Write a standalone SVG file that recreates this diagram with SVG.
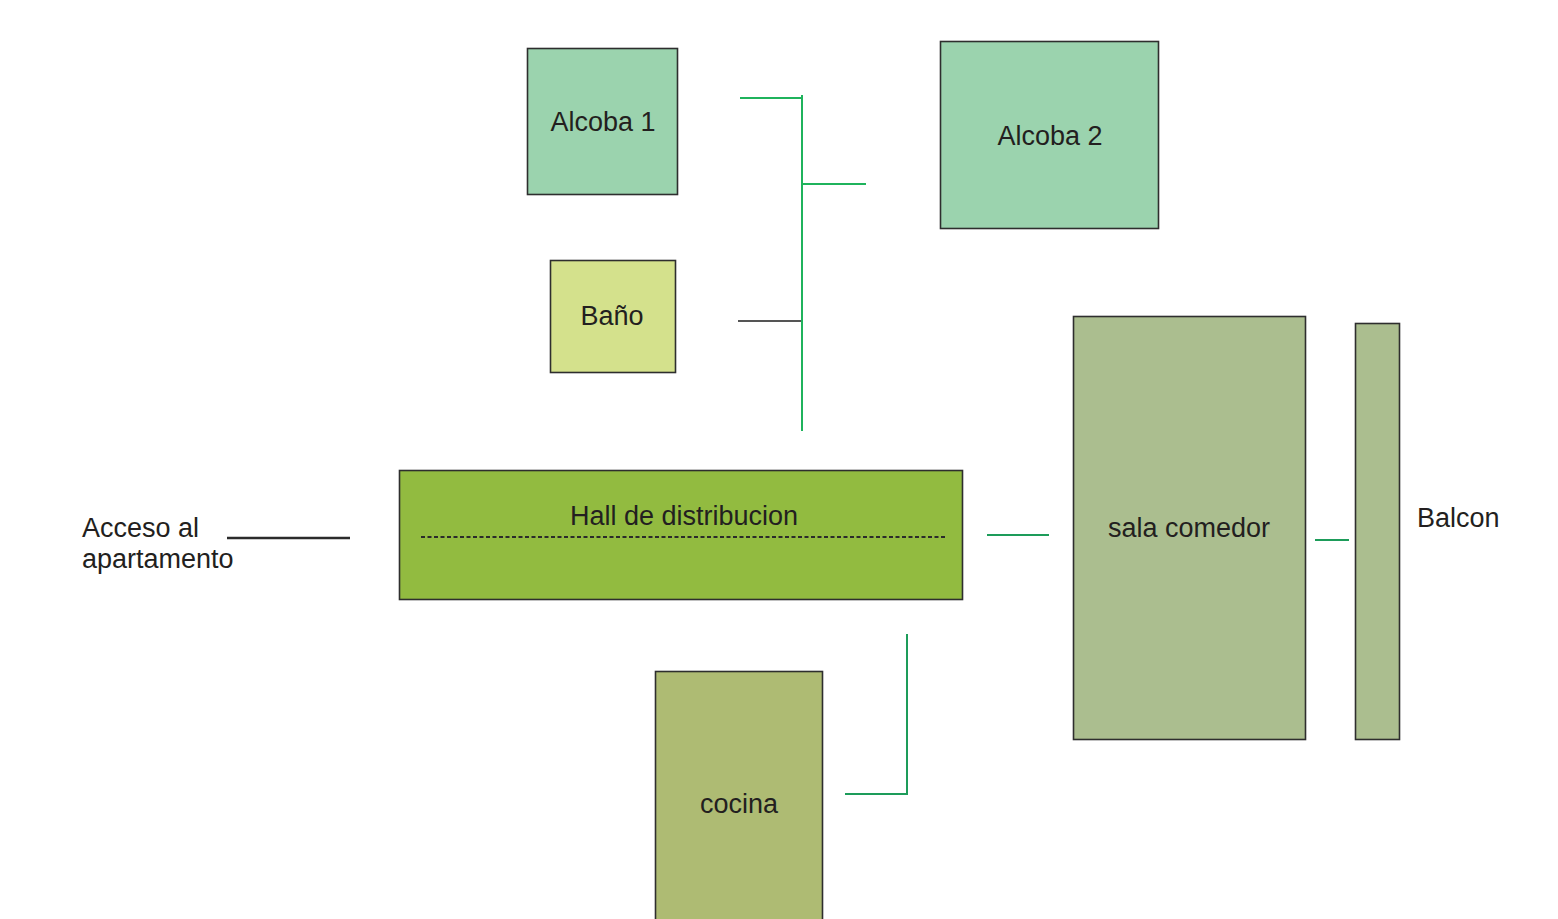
<svg xmlns="http://www.w3.org/2000/svg" width="1558" height="919" viewBox="0 0 1558 919">
  <style>
    .room { stroke: #2e2e2e; stroke-width: 1.6; }
    .label { font-family: "Liberation Sans", Arial, sans-serif; font-size: 27px; fill: #231f20; }
    .mid { text-anchor: middle; }
    .link { stroke: #1fb35c; stroke-width: 2; fill: none; }
    .link-dark { stroke: #1d9c5a; stroke-width: 2; fill: none; }
    .link-grey { stroke: #555555; stroke-width: 2; fill: none; }
  </style>
  <rect width="1558" height="919" fill="#ffffff"/>

  <!-- connectors between rooms -->
  <g id="connectors">
    <line class="link" x1="802" y1="95" x2="802" y2="431"/>
    <line class="link" x1="740" y1="98" x2="802" y2="98"/>
    <line class="link" x1="802" y1="184" x2="866" y2="184"/>
    <line class="link-grey" x1="738" y1="321" x2="801" y2="321"/>
    <line class="link-dark" x1="987" y1="535" x2="1049" y2="535"/>
    <line class="link-dark" x1="1315" y1="540" x2="1349" y2="540"/>
    <polyline class="link-dark" points="907,634 907,794 845,794"/>
    <line x1="227" y1="538" x2="350" y2="538" stroke="#2b2b2b" stroke-width="2.5"/>
  </g>

  <g id="acceso">
    <text class="label" x="82" y="537">Acceso al</text>
    <text class="label" x="82" y="568">apartamento</text>
  </g>

  <g id="alcoba1">
    <rect class="room" x="527.5" y="48.5" width="150" height="146" fill="#9bd3ae"/>
    <text class="label mid" x="603" y="131">Alcoba 1</text>
  </g>

  <g id="alcoba2">
    <rect class="room" x="940.5" y="41.5" width="218" height="187" fill="#9bd3ae"/>
    <text class="label mid" x="1050" y="145">Alcoba 2</text>
  </g>

  <g id="bano">
    <rect class="room" x="550.5" y="260.5" width="125" height="112" fill="#d4e18c"/>
    <text class="label mid" x="612" y="325">Baño</text>
  </g>

  <g id="hall">
    <rect class="room" x="399.5" y="470.5" width="563" height="129" fill="#92bb40"/>
    <text class="label mid" x="684" y="525">Hall de distribucion</text>
    <line x1="421" y1="537" x2="947" y2="537" stroke="#2b2b2b" stroke-width="2" stroke-dasharray="4,2.5"/>
  </g>

  <g id="sala">
    <rect class="room" x="1073.5" y="316.5" width="232" height="423" fill="#abbe8f"/>
    <text class="label mid" x="1189" y="537">sala comedor</text>
  </g>

  <g id="balcon">
    <rect class="room" x="1355.5" y="323.5" width="44" height="416" fill="#abbe8f"/>
    <text class="label" x="1417" y="527">Balcon</text>
  </g>

  <g id="cocina">
    <rect class="room" x="655.5" y="671.5" width="167" height="260" fill="#aebb73"/>
    <text class="label mid" x="739" y="813">cocina</text>
  </g>
</svg>
